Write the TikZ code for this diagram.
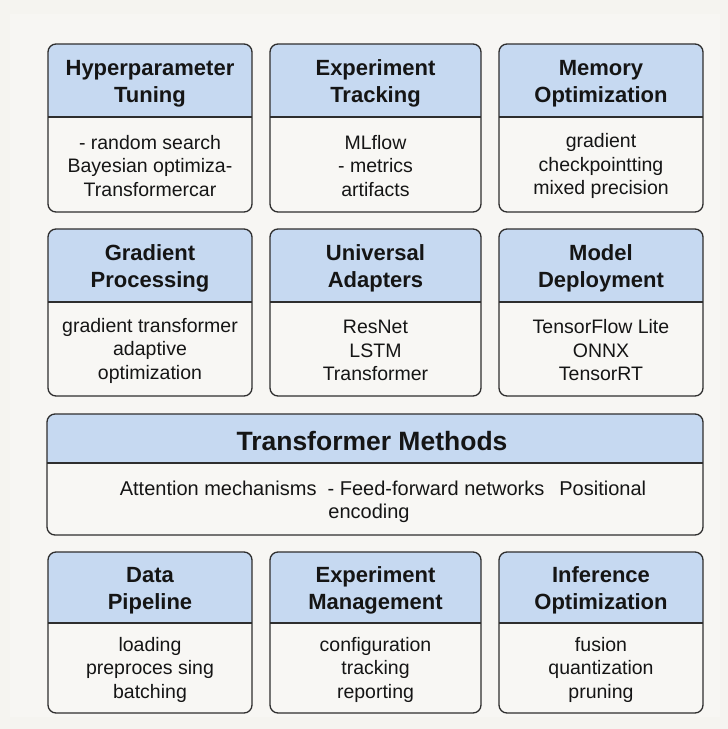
\documentclass[tikz,border=0pt]{standalone}
\usepackage{fontspec}
\setmainfont{Liberation Sans}

\definecolor{pagebg}{HTML}{F5F4F0}
\definecolor{sheetbg}{HTML}{F7F6F3}
\definecolor{cardbg}{HTML}{F8F7F4}
\definecolor{headbg}{HTML}{C6D9F1}
\definecolor{edge}{HTML}{2E2E2E}
\definecolor{ink}{HTML}{151515}

\tikzset{
  headtext/.style={font=\fontsize{22}{27}\selectfont\bfseries, text=ink,
                   align=center, inner sep=0pt},
  bodytext/.style={font=\fontsize{19.5}{23.5}\selectfont, text=ink,
                   align=center, inner sep=0pt},
  outline/.style={draw=edge, line width=1.3pt, rounded corners=8pt},
  divider/.style={draw=edge, line width=1.1pt},
}

% card: name, left, top, right, bottom, header bottom, title, body
\newcommand\card[8]{%
  \begin{scope}
    \clip[rounded corners=8pt] (#2,#3) rectangle (#4,#5);
    \fill[cardbg] (#2,#3) rectangle (#4,#5);
    \fill[headbg] (#2,#3) rectangle (#4,#6);
  \end{scope}
  \draw[divider] (#2,#6) -- (#4,#6);
  \draw[outline] (#2,#3) rectangle (#4,#5);
  \node[headtext] (#1-head) at ({(#2+#4)/2},{(#3+#6)/2+3}) {#7};
  \node[bodytext] (#1-body) at ({(#2+#4)/2},{(#6+#5)/2+1.5}) {#8};
}

\begin{document}
\begin{tikzpicture}[x=1pt,y=-1pt]
  \useasboundingbox (0,0) rectangle (728,729);
  \fill[pagebg] (0,0) rectangle (728,729);
  \fill[sheetbg] (10,14) rectangle (720,717);

  % first row
  \card{hyper}{48}{44}{252}{212}{117}
    {Hyperparameter\\Tuning}
    {- random search\\Bayesian optimiza-\\Transformercar}
  \card{track}{270}{44}{481}{212}{117}
    {Experiment\\Tracking}
    {MLflow\\- metrics\\artifacts}
  \card{memory}{499}{44}{703}{212}{117}
    {Memory\\Optimization}
    {gradient\\checkpointting\\mixed precision}

  % second row
  \card{gradproc}{48}{229}{252}{396}{302}
    {Gradient\\Processing}
    {gradient transformer\\adaptive\\optimization}
  \card{adapters}{270}{229}{481}{396}{302}
    {Universal\\Adapters}
    {ResNet\\LSTM\\Transformer}
  \card{deploy}{499}{229}{703}{396}{302}
    {Model\\Deployment}
    {TensorFlow Lite\\ONNX\\TensorRT}

  % wide transformer card: text placed by hand
  \begin{scope}
    \clip[rounded corners=8pt] (47,414) rectangle (703,535);
    \fill[cardbg] (47,414) rectangle (703,535);
    \fill[headbg] (47,414) rectangle (703,463);
  \end{scope}
  \draw[divider] (47,463) -- (703,463);
  \draw[outline] (47,414) rectangle (703,535);
  \node[headtext, font=\fontsize{26.5}{30}\selectfont\bfseries]
    (transformer-head) at (372,441) {Transformer Methods};
  \node[bodytext, font=\fontsize{20}{23.5}\selectfont]
    (transformer-body) at (383,502)
    {Attention mechanisms\hspace{5.5pt} - Feed-forward networks\hspace{9.5pt} Positional\\\hspace*{-28pt}encoding};

  % last row
  \card{datapipe}{48}{552}{252}{713}{623}
    {Data\\Pipeline}
    {loading\\preproces sing\\batching}
  \card{expmgmt}{270}{552}{481}{713}{623}
    {Experiment\\Management}
    {configuration\\tracking\\reporting}
  \card{inference}{499}{552}{703}{713}{623}
    {Inference\\Optimization}
    {fusion\\quantization\\pruning}
\end{tikzpicture}
\end{document}
